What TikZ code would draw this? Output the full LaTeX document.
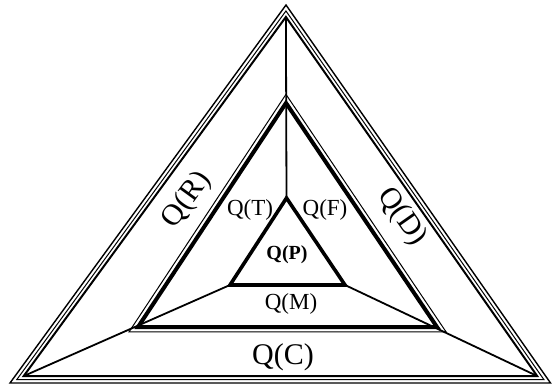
\documentclass[tikz,border=0pt]{standalone}
\usepackage{fontspec}
\setmainfont{Liberation Serif}
\usetikzlibrary{calc}

\begin{document}
\begin{tikzpicture}[x=1pt,y=-1pt,
  edge/.style={draw=black,line join=miter},
  link/.style={draw=black,line width=1.8pt},
  biglabel/.style={font=\fontsize{30}{30}\selectfont,inner sep=0pt},
  midlabel/.style={font=\fontsize{23}{23}\selectfont,inner sep=0pt},
  corelabel/.style={font=\fontsize{20}{20}\selectfont\bfseries,inner sep=0pt}
]
\useasboundingbox (0,0) rectangle (553,385);
% outer triangle and its centre
\coordinate (oa) at (286,5);
\coordinate (ob) at (10,383);
\coordinate (oc) at (550.5,383);
\coordinate (oi) at (283.9,243.8);
\coordinate (ta) at ($(oi)!0.95!(oa)$);
\coordinate (tb) at ($(oi)!0.95!(ob)$);
\coordinate (tc) at ($(oi)!0.95!(oc)$);
\draw[edge,line width=1.4pt] (oa) -- (ob) -- (oc) -- cycle;
\draw[edge,line width=1pt] ($(oi)!0.975!(oa)$) -- ($(oi)!0.975!(ob)$) -- ($(oi)!0.975!(oc)$) -- cycle;
\draw[edge,line width=2pt] (ta) -- (tb) -- (tc) -- cycle;

% middle triangle
\coordinate (ma) at (286,103);
\coordinate (mb) at (138,327);
\coordinate (mc) at (437,327);
\coordinate (mi) at (286.7,247);
\draw[edge,line width=1pt] ($(mi)!1.06!(ma)$) -- ($(mi)!1.06!(mb)$) -- ($(mi)!1.06!(mc)$) -- cycle;
\draw[edge,line width=4pt] (ma) -- (mb) -- (mc) -- cycle;

% inner triangle
\coordinate (pa) at (286.5,198);
\coordinate (pb) at (230,285);
\coordinate (pc) at (345,285);
\draw[edge,line width=3.6pt] (pa) -- (pb) -- (pc) -- cycle;

% spokes
\draw[link] (pa) -- (ta);
\draw[link] (pb) -- (tb);
\draw[link] (pc) -- (tc);

% labels
\node[biglabel,rotate=54] (qr) at (187,200) {Q(R)};
\node[biglabel,rotate=-55] (qd) at (402,217) {Q(D)};
\node[biglabel] (qc) at (283,357) {Q(C)};
\node[midlabel] (qt) at (250,210) {Q(T)};
\node[midlabel] (qf) at (325,210) {Q(F)};
\node[midlabel] (qm) at (291,304) {Q(M)};
\node[corelabel] (qp) at (287,255) {Q(P)};
\end{tikzpicture}
\end{document}
